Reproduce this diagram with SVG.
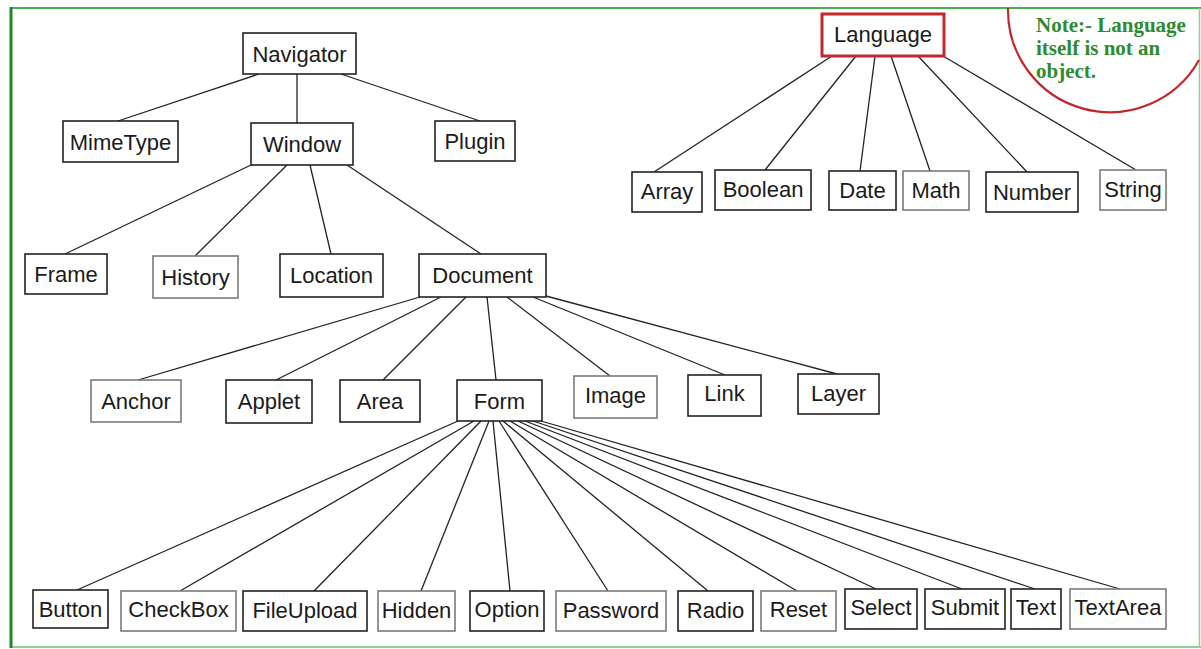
<svg xmlns="http://www.w3.org/2000/svg" width="1201" height="649" viewBox="0 0 1201 649">
<style>
.box{fill:#fff;stroke:#222;stroke-width:1.6}
.gray{stroke:#7a7a7a}
.red{stroke:#c1272d;stroke-width:3}
.lbl{font-family:"Liberation Sans",Arial,sans-serif;font-size:22px;fill:#1a1a1a;text-anchor:middle}
.edge{stroke:#222;stroke-width:1.3;fill:none}
.note{font-family:"Liberation Serif","Times New Roman",serif;font-size:21px;font-weight:bold;fill:#2e8b2e}
</style>
<rect x="0" y="0" width="1201" height="649" fill="#fff"/>
<g id="frame">
<line x1="10" y1="8" x2="1201" y2="8" stroke="#4caf50" stroke-width="2"/>
<line x1="10" y1="647" x2="1201" y2="647" stroke="#8fd18f" stroke-width="2"/>
<line x1="11" y1="7" x2="11" y2="648" stroke="#1e8a1e" stroke-width="3"/>
<line x1="1199.5" y1="8" x2="1199.5" y2="648" stroke="#8fd18f" stroke-width="1.5"/>
</g>
<g id="note">
<path d="M1008,8 A102,102 0 0 0 1199,60" fill="none" stroke="#c1272d" stroke-width="2.2"/>
<text class="note" x="1036" y="32">Note:- Language</text>
<text class="note" x="1036" y="55">itself is not an</text>
<text class="note" x="1036" y="78">object.</text>
</g>
<g id="connectors">
<line class="edge" x1="259" y1="74" x2="118" y2="121"/>
<line class="edge" x1="297" y1="74" x2="297" y2="123"/>
<line class="edge" x1="341" y1="74" x2="480" y2="121"/>
<line class="edge" x1="251" y1="165" x2="65" y2="254"/>
<line class="edge" x1="287" y1="165" x2="195" y2="256"/>
<line class="edge" x1="310" y1="165" x2="331" y2="254"/>
<line class="edge" x1="347" y1="165" x2="481" y2="254"/>
<line class="edge" x1="420" y1="297" x2="138" y2="380"/>
<line class="edge" x1="441" y1="297" x2="276" y2="380"/>
<line class="edge" x1="466" y1="297" x2="383" y2="380"/>
<line class="edge" x1="487" y1="297" x2="496" y2="380"/>
<line class="edge" x1="507" y1="297" x2="610" y2="376"/>
<line class="edge" x1="533" y1="297" x2="725" y2="375"/>
<line class="edge" x1="546" y1="296" x2="837" y2="374"/>
<line class="edge" x1="458" y1="421" x2="77" y2="590"/>
<line class="edge" x1="474" y1="421" x2="180" y2="591"/>
<line class="edge" x1="481" y1="421" x2="314" y2="591"/>
<line class="edge" x1="489" y1="421" x2="421" y2="591"/>
<line class="edge" x1="493" y1="421" x2="510" y2="591"/>
<line class="edge" x1="499" y1="421" x2="608" y2="591"/>
<line class="edge" x1="503" y1="421" x2="708" y2="591"/>
<line class="edge" x1="510" y1="421" x2="797" y2="591"/>
<line class="edge" x1="518" y1="421" x2="876" y2="589"/>
<line class="edge" x1="525" y1="421" x2="962" y2="589"/>
<line class="edge" x1="533" y1="421" x2="1035" y2="589"/>
<line class="edge" x1="541" y1="421" x2="1120" y2="589"/>
<line class="edge" x1="832" y1="56" x2="654" y2="172"/>
<line class="edge" x1="856" y1="56" x2="765" y2="170"/>
<line class="edge" x1="875" y1="56" x2="860" y2="171"/>
<line class="edge" x1="891" y1="56" x2="930" y2="171"/>
<line class="edge" x1="918" y1="56" x2="1027" y2="172"/>
<line class="edge" x1="943" y1="56" x2="1136" y2="170"/>
</g>
<g id="Navigator"><rect class="box" x="243" y="33" width="113" height="41"/><text class="lbl" x="299.5" y="61.5">Navigator</text></g>
<g id="MimeType"><rect class="box" x="63" y="121" width="115" height="41"/><text class="lbl" x="120.5" y="149.5">MimeType</text></g>
<g id="Window"><rect class="box" x="251" y="123" width="102" height="42"/><text class="lbl" x="302" y="152">Window</text></g>
<g id="Plugin"><rect class="box" x="435" y="121" width="80" height="40"/><text class="lbl" x="475" y="149">Plugin</text></g>
<g id="Frame"><rect class="box" x="25" y="254" width="82" height="40"/><text class="lbl" x="66" y="282">Frame</text></g>
<g id="History"><rect class="box gray" x="153" y="256" width="85" height="42"/><text class="lbl" x="195.5" y="285">History</text></g>
<g id="Location"><rect class="box" x="280" y="254" width="103" height="43"/><text class="lbl" x="331.5" y="283">Location</text></g>
<g id="Document"><rect class="box" x="419" y="254" width="127" height="43"/><text class="lbl" x="482.5" y="283">Document</text></g>
<g id="Anchor"><rect class="box gray" x="91" y="380" width="90" height="42"/><text class="lbl" x="136" y="409">Anchor</text></g>
<g id="Applet"><rect class="box" x="226" y="380" width="86" height="43"/><text class="lbl" x="269" y="409">Applet</text></g>
<g id="Area"><rect class="box" x="340" y="380" width="80" height="42"/><text class="lbl" x="380" y="409">Area</text></g>
<g id="Form"><rect class="box" x="457" y="380" width="85" height="41"/><text class="lbl" x="499.5" y="408.5">Form</text></g>
<g id="Image"><rect class="box gray" x="574" y="376" width="83" height="42"/><text class="lbl" x="615.5" y="403">Image</text></g>
<g id="Link"><rect class="box" x="688" y="375" width="73" height="41"/><text class="lbl" x="724.5" y="401">Link</text></g>
<g id="Layer"><rect class="box" x="798" y="374" width="81" height="40"/><text class="lbl" x="838.5" y="401">Layer</text></g>
<g id="Button"><rect class="box" x="33" y="590" width="75" height="38"/><text class="lbl" x="70.5" y="617">Button</text></g>
<g id="CheckBox"><rect class="box gray" x="121" y="591" width="115" height="40"/><text class="lbl" x="178.5" y="617">CheckBox</text></g>
<g id="FileUpload"><rect class="box" x="243" y="591" width="124" height="40"/><text class="lbl" x="305" y="618">FileUpload</text></g>
<g id="Hidden"><rect class="box gray" x="378" y="591" width="77" height="40"/><text class="lbl" x="416.5" y="618">Hidden</text></g>
<g id="Option"><rect class="box" x="470" y="591" width="74" height="40"/><text class="lbl" x="507" y="617">Option</text></g>
<g id="Password"><rect class="box gray" x="556" y="591" width="110" height="40"/><text class="lbl" x="611" y="618">Password</text></g>
<g id="Radio"><rect class="box" x="678" y="591" width="75" height="40"/><text class="lbl" x="715.5" y="618">Radio</text></g>
<g id="Reset"><rect class="box gray" x="761" y="591" width="75" height="40"/><text class="lbl" x="798.5" y="617">Reset</text></g>
<g id="Select"><rect class="box" x="845" y="589" width="72" height="40"/><text class="lbl" x="881" y="615">Select</text></g>
<g id="Submit"><rect class="box" x="925" y="589" width="80" height="40"/><text class="lbl" x="965" y="615">Submit</text></g>
<g id="Text"><rect class="box" x="1011" y="589" width="50" height="40"/><text class="lbl" x="1036" y="615">Text</text></g>
<g id="TextArea"><rect class="box gray" x="1070" y="589" width="96" height="40"/><text class="lbl" x="1118" y="615">TextArea</text></g>
<g id="Language"><rect class="box red" x="822" y="14" width="122" height="42"/><text class="lbl" x="883" y="42">Language</text></g>
<g id="Array"><rect class="box" x="632" y="172" width="70" height="40"/><text class="lbl" x="667" y="199">Array</text></g>
<g id="Boolean"><rect class="box" x="715" y="170" width="96" height="40"/><text class="lbl" x="763" y="197">Boolean</text></g>
<g id="Date"><rect class="box" x="829" y="171" width="67" height="39"/><text class="lbl" x="862.5" y="198">Date</text></g>
<g id="Math"><rect class="box gray" x="903" y="171" width="66" height="39"/><text class="lbl" x="936" y="198">Math</text></g>
<g id="Number"><rect class="box" x="986" y="172" width="92" height="40"/><text class="lbl" x="1032" y="200">Number</text></g>
<g id="String"><rect class="box gray" x="1100" y="170" width="66" height="40"/><text class="lbl" x="1133" y="197">String</text></g>
</svg>
